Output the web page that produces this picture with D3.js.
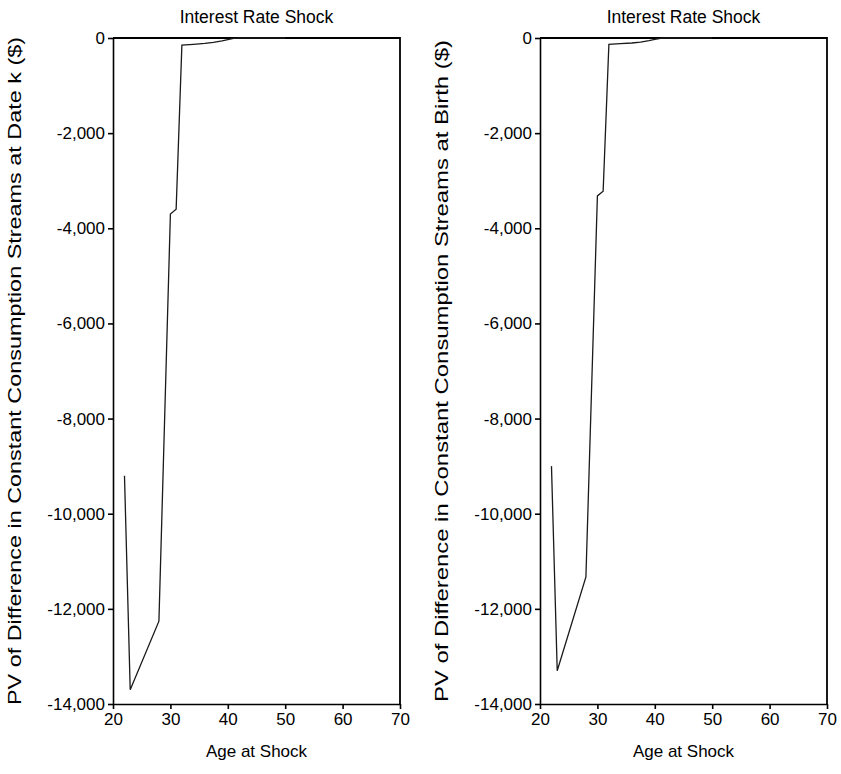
<!DOCTYPE html>
<html>
<head>
<meta charset="utf-8">
<script src="https://cdn.jsdelivr.net/npm/d3@7"></script>
<style>
  body { margin: 0; background: #fff; }
  svg text { font-family: "Liberation Sans", Arial, sans-serif; fill: #000; }
  .axis path, .axis line { stroke: #000; stroke-width: 1.6; }
  .axis text { font-size: 17px; }
</style>
</head>
<body>
<div id="chart"></div>
<script>
// values
var ageAtShock = [22, 23, 28, 30, 31, 32, 34, 36, 37.5, 39, 40, 41, 42, 45, 50]
var pvDateK   = [-9200, -13700, -12260, -3700, -3600, -150, -135, -115, -90, -60, -35, -10, 0, 0, 0]
var pvBirth   = [-9000, -13300, -11330, -3320, -3220, -135, -120, -105, -85, -55, -30, -8, 0, 0, 0]

var xTicks = [20, 30, 40, 50, 60, 70]
var yTicks = [0, -2000, -4000, -6000, -8000, -10000, -12000, -14000]

var titleText = "Interest Rate Shock"
var xLabel = "Age at Shock"
var yLabels = [
  "PV of Difference in Constant Consumption Streams at Date k ($)",
  "PV of Difference in Constant Consumption Streams at Birth ($)"
]

var width = 841, height = 774
var margin = { top: 38, bottom: 70 }
var panelW = 287
var panelLeft = [113, 540]
var yLabelLength = [668, 662]

var svg = d3.select('#chart').append('svg')
  .attr('width', width)
  .attr('height', height)

var commaFmt = d3.format(',')
function fmt(d) { return commaFmt(d).replace('\u2212', '-') }

function drawPanel(values, p, yLabel) {
  var left = panelLeft[p]
  var plotH = height - margin.top - margin.bottom

  var x = d3.scaleLinear().domain([20, 70]).range([0, panelW])
  var y = d3.scaleLinear().domain([-14000, 0]).range([plotH, 0])

  var g = svg.append('g')
    .attr('transform', 'translate(' + left + ',' + margin.top + ')')

  // frame top + right
  g.append('path')
    .attr('d', 'M0,0H' + x(70) + 'V' + y(-14000))
    .attr('fill', 'none')
    .attr('stroke', '#000')
    .attr('stroke-width', 1.8)

  g.append('g')
    .attr('class', 'axis')
    .attr('transform', 'translate(0,' + plotH + ')')
    .call(d3.axisBottom(x).tickValues(xTicks).tickSize(5).tickSizeOuter(0).tickPadding(4))

  g.append('g')
    .attr('class', 'axis')
    .call(d3.axisLeft(y).tickValues(yTicks).tickFormat(fmt).tickSize(5).tickSizeOuter(0).tickPadding(3))

  g.selectAll('.axis .domain').attr('stroke-width', 1.8)

  var line = d3.line()
    .x(function(d, i) { return x(ageAtShock[i]) })
    .y(function(d) { return y(d) })

  g.append('path')
    .datum(values)
    .attr('fill', 'none')
    .attr('stroke', '#1a1a1a')
    .attr('stroke-width', 1.3)
    .attr('d', line)

  g.append('text')
    .attr('x', panelW / 2)
    .attr('y', -15)
    .attr('text-anchor', 'middle')
    .style('font-size', '17.5px')
    .text(titleText)

  g.append('text')
    .attr('x', panelW / 2)
    .attr('y', plotH + 53)
    .attr('text-anchor', 'middle')
    .style('font-size', '17px')
    .text(xLabel)

  g.append('text')
    .attr('transform', 'translate(-92,' + (plotH / 2) + ') rotate(-90)')
    .attr('text-anchor', 'middle')
    .attr('textLength', yLabelLength[p])
    .attr('lengthAdjust', 'spacingAndGlyphs')
    .style('font-size', '19px')
    .text(yLabel)
}

drawPanel(pvDateK, 0, yLabels[0])
drawPanel(pvBirth, 1, yLabels[1])
</script>
</body>
</html>
